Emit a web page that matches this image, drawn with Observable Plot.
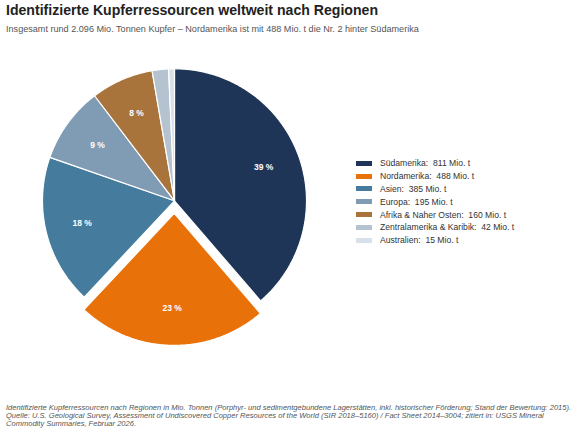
<!DOCTYPE html>
<html>
<head>
<meta charset="utf-8">
<script src="https://cdn.jsdelivr.net/npm/d3@7"></script>
<script src="https://cdn.jsdelivr.net/npm/@observablehq/plot@0.6"></script>
<style>
  body { margin: 0; background: #fff; font-family: "Liberation Sans", Arial, sans-serif; }
  #wrap { position: relative; width: 580px; height: 434px; overflow: hidden; }
  #title { position: absolute; left: 6px; top: 2px; font-size: 14.1px; line-height: 17px; font-weight: bold; color: #222; }
  #subtitle { position: absolute; left: 6px; top: 23px; font-size: 9.1px; line-height: 12px; color: #555; }
  #chart { position: absolute; left: 0; top: 40px; }
  #legend { position: absolute; left: 356px; top: 157px; font-size: 8.6px; color: #333; }
  .row { display: flex; align-items: center; height: 12.8px; white-space: pre; }
  .sw { width: 16px; height: 5px; margin-right: 8px; }
  #note { position: absolute; left: 6px; top: 404px; width: 574px; font-size: 7.55px; line-height: 8px; font-style: italic; color: #555; white-space: nowrap; }
</style>
</head>
<body>
<div id="wrap">
  <div id="title">Identifizierte Kupferressourcen weltweit nach Regionen</div>
  <div id="subtitle">Insgesamt rund 2.096 Mio. Tonnen Kupfer – Nordamerika ist mit 488 Mio. t die Nr. 2 hinter Südamerika</div>
  <div id="chart"></div>
  <div id="legend"></div>
  <div id="note">Identifizierte Kupferressourcen nach Regionen in Mio. Tonnen (Porphyr- und sedimentgebundene Lagerstätten, inkl. historischer Förderung; Stand der Bewertung: 2015).<br>Quelle: U.S. Geological Survey, Assessment of Undiscovered Copper Resources of the World (SIR 2018–5160) / Fact Sheet 2014–3004; zitiert in: USGS Mineral<br>Commodity Summaries, Februar 2026.</div>
</div>
<script>
// Regions and identified copper resources (Mio. t)
const regions = ["Südamerika", "Nordamerika", "Asien", "Europa", "Afrika & Naher Osten", "Zentralamerika & Karibik", "Australien"];
const resources = [811, 488, 385, 195, 160, 42, 15];
const colors = ["#1f3557", "#e8710a", "#457b9d", "#7f9cb4", "#a8743c", "#b4c3cf", "#d8e1e9"];
const highlighted = "Nordamerika";

const total = d3.sum(resources);
const rows = regions.map((region, i) => ({region, value: resources[i], share: resources[i] / total}));

// Angular layout: clockwise from 12 o'clock, in list order
const arcs = d3.pie().sort(null).value(d => d.value)(rows);
const explode = 0.095;
const labelRadius = 0.72;

// Each slice as a closed outline in unit coordinates (y points up)
const outline = [];
const labels = [];
for (const a of arcs) {
  const mid = (a.startAngle + a.endAngle) / 2;
  const off = a.data.region === highlighted ? explode : 0;
  const cx = off * Math.sin(mid), cy = off * Math.cos(mid);
  const steps = Math.max(2, Math.ceil((a.endAngle - a.startAngle) / 0.01));
  outline.push({region: a.data.region, x: cx, y: cy});
  for (let k = 0; k <= steps; ++k) {
    const t = a.startAngle + (a.endAngle - a.startAngle) * k / steps;
    outline.push({region: a.data.region, x: cx + Math.sin(t), y: cy + Math.cos(t)});
  }
  outline.push({region: a.data.region, x: cx, y: cy});
  if (a.data.share >= 0.05) {
    labels.push({
      text: Math.round(a.data.share * 100) + " %",
      x: cx + labelRadius * Math.sin(mid),
      y: cy + labelRadius * Math.cos(mid)
    });
  }
}

const R = 132, ext = 1.2;
const chart = Plot.plot({
  width: 340,
  height: 330,
  marginLeft: 174 - ext * R,
  marginRight: 340 - (174 + ext * R),
  marginTop: 160.3 - ext * R,
  marginBottom: 330 - (160.3 + ext * R),
  x: {domain: [-ext, ext], axis: null},
  y: {domain: [-ext, ext], axis: null},
  color: {domain: regions, range: colors},
  style: {fontFamily: "Liberation Sans, Arial, sans-serif", background: "transparent"},
  marks: [
    Plot.line(outline, {x: "x", y: "y", z: "region", fill: "region", stroke: "white", strokeWidth: 1.2, strokeLinejoin: "miter", curve: "linear"}),
    Plot.text(labels, {x: "x", y: "y", text: "text", fill: "white", fontSize: 8.5, fontWeight: "bold"})
  ]
});
document.getElementById("chart").append(chart);

// Legend: swatch + "Region:  value Mio. t"
const legend = d3.select("#legend");
rows.forEach((d, i) => {
  const row = legend.append("div").attr("class", "row");
  row.append("div").attr("class", "sw").style("background", colors[i]);
  row.append("span").text(`${d.region}:  ${d.value} Mio. t`);
});
</script>
</body>
</html>
